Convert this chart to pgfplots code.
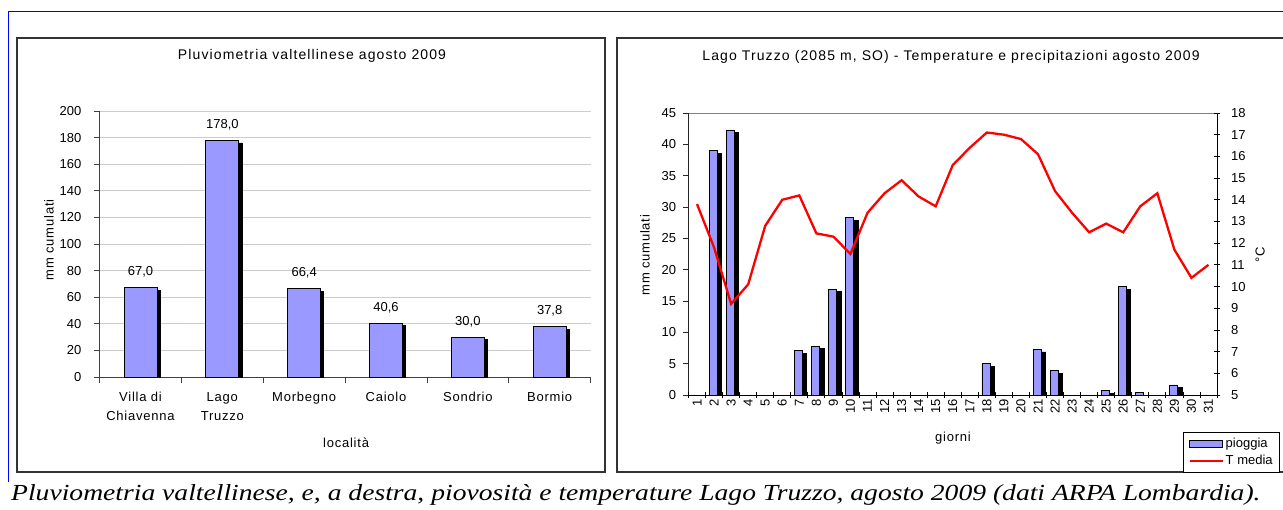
\documentclass[border=0pt]{standalone}
\usepackage{fontspec}
\setmainfont{Liberation Sans}
\newfontfamily\capfont{Liberation Serif}[FakeStretch=1.2]
\usepackage{pgfplots}
\pgfplotsset{compat=1.18}
\usetikzlibrary{shadows}
\definecolor{barblue}{RGB}{153,153,255}
\newcommand{\tf}{\fontsize{13}{15}\selectfont}
\newcommand{\lf}{\fontsize{13}{15}\selectfont\addfontfeature{LetterSpace=6}}
\newcommand{\ttlf}{\fontsize{14}{16}\selectfont\addfontfeature{LetterSpace=8}}
\pgfplotsset{
  barlegend/.style={legend image code/.code={\draw[##1] (0pt,-3.5pt) rectangle (33pt,3.5pt);}},
  linelegend/.style={legend image code/.code={\draw[##1] (0pt,0pt) -- (33pt,0pt);}},
}
\begin{document}
\begin{tikzpicture}[x=1pt,y=1pt]
\useasboundingbox (0,0) rectangle (1283,509);
% frames
\draw[blue, line width=1pt] (8,497) -- (1290,497);
\draw[blue, line width=1pt] (8,497) -- (8,27);
\draw[black!80, line width=1.5pt] (17,471) rectangle (605,37);
\draw[black!80, line width=1.5pt] (617,471) rectangle (1300,37);
\node[anchor=base west, font=\capfont\itshape\fontsize{23}{27}\selectfont, inner sep=0pt] at (11,8.5) {Pluviometria valtellinese, e, a destra, piovosità e temperature Lago Truzzo, agosto 2009 (dati ARPA Lombardia).};

% ---------------- left chart
\begin{axis}[
  at={(99.6pt,132pt)}, anchor=south west, scale only axis,
  width=491pt, height=266pt,
  font=\tf,
  /pgf/number format/assume math mode=true,
  xmin=-0.5, xmax=5.5, ymin=0, ymax=200,
  axis x line*=bottom, axis y line*=left,
  axis line style={black!75, line width=0.8pt, -},
  xtick={-0.5,0.5,...,5.5}, xticklabels={},
  extra x ticks={0,1,2,3,4,5},
  extra x tick labels={{Villa di\\Chiavenna},{Lago\\Truzzo},Morbegno,Caiolo,Sondrio,Bormio},
  extra x tick style={major tick length=0pt, tick label style={align=center, font=\fontsize{13}{19}\selectfont\addfontfeature{LetterSpace=6}, inner sep=0pt, yshift=-15pt}},
  ytick={0,20,...,200},
  y tick label style={inner sep=0pt, xshift=-12pt},
  tick align=outside, major tick length=6pt,
  tick style={black!75, line width=0.8pt},
  ymajorgrids, grid style={black!20, line width=0.8pt},
  title={Pluviometria valtellinese agosto 2009},
  title style={at={(axis description cs:0.4326,1.184)}, anchor=center, font=\ttlf},
  xlabel={località},
  xlabel style={at={(axis description cs:0.502,-0.248)}, anchor=center, font=\lf},
  ylabel={mm cumulati},
  ylabel style={at={(axis description cs:-0.103,0.515)}, anchor=center, rotate=0, font=\lf},
]
\addplot[ybar, bar width=33pt, fill=barblue, draw=black, line width=0.8pt,
  drop shadow={shadow xshift=3.2pt, shadow yshift=-2.7pt, fill=black, opacity=1},
  nodes near coords={\pgfmathprintnumber[fixed,zerofill,precision=1,use comma]{\pgfplotspointmeta}},
  every node near coord/.append style={anchor=base, inner sep=0pt, yshift=12pt, font=\tf, black}]
  coordinates {(0,67.0) (1,178.0) (2,66.4) (3,40.6) (4,30.0) (5,37.8)};
\end{axis}

% ---------------- right chart: bars
\begin{axis}[
  at={(688.5pt,114pt)}, anchor=south west, scale only axis,
  width=528.5pt, height=282pt,
  font=\tf,
  /pgf/number format/assume math mode=true,
  xmin=0.5, xmax=31.5, ymin=0, ymax=45,
  axis x line=none, axis y line*=left,
  axis line style={black!85, line width=0.8pt, -},
  ytick={0,5,...,45},
  y tick label style={inner sep=0pt, xshift=-6.3pt},
  tick align=outside, major tick length=6pt,
  tick style={black!85, line width=0.8pt},
  title={Lago Truzzo (2085 m, SO) - Temperature e precipitazioni agosto 2009},
  title style={at={(axis description cs:0.4967,1.177)}, anchor=center, font=\ttlf},
  ylabel={mm cumulati},
  ylabel style={at={(axis description cs:-0.0823,0.496)}, anchor=center, rotate=0, font=\lf},
]
\addplot[ybar, bar width=8pt, bar shift=-1pt, fill=barblue, draw=black, line width=0.7pt,
  drop shadow={shadow xshift=4.5pt, shadow yshift=-2.7pt, fill=black, opacity=1}]
  coordinates {(2,39.0) (3,42.3) (7,7.1) (8,7.8) (9,16.9) (10,28.3) (18,5.0) (21,7.3) (22,3.9) (25,0.7) (26,17.3) (27,0.4) (29,1.6)};
\end{axis}
\draw[black!50, line width=0.8pt] (688.5,396) -- (1217,396);

% ---------------- right chart: temperature and x axis
\begin{axis}[
  at={(688.5pt,114pt)}, anchor=south west, scale only axis,
  width=528.5pt, height=282pt,
  font=\tf,
  /pgf/number format/assume math mode=true,
  xmin=0.5, xmax=31.5, ymin=5, ymax=18,
  axis x line*=bottom, axis y line*=right,
  axis line style={black, line width=0.8pt, -},
  xtick={0.5,1.5,...,31.5}, xticklabels={},
  extra x ticks={1,...,31},
  extra x tick style={major tick length=0pt, tick label style={rotate=90, anchor=east, inner xsep=4pt, inner ysep=0pt}},
  ytick={5,...,18},
  y tick label style={inner sep=0pt, xshift=10.7pt},
  tick align=center, major tick length=6.5pt,
  tick style={black, line width=0.8pt},
  xlabel={giorni},
  xlabel style={at={(axis description cs:0.5005,-0.1525)}, anchor=center, font=\lf},
  ylabel={°C},
  ylabel style={at={(axis description cs:1.0814,0.496)}, anchor=center, rotate=0, font=\lf},
  legend style={at={(axis description cs:0.9357,-0.1312)}, anchor=north west, draw=black, line width=0.8pt, font=\tf, inner xsep=5pt, inner ysep=4pt, row sep=2pt, nodes={inner sep=2pt}},
  legend cell align=left,
]
\addlegendimage{fill=barblue, draw=black, line width=0.8pt, barlegend}
\addlegendentry{pioggia}
\addplot[red, line width=2.3pt, linelegend]
  coordinates {(1,13.8) (2,11.8) (3,9.2) (4,10.1) (5,12.8) (6,14.0) (7,14.2) (8,12.45) (9,12.3) (10,11.5) (11,13.4) (12,14.3) (13,14.9) (14,14.15) (15,13.7) (16,15.6) (17,16.4) (18,17.1) (19,17.0) (20,16.8) (21,16.1) (22,14.4) (23,13.4) (24,12.5) (25,12.9) (26,12.5) (27,13.7) (28,14.3) (29,11.7) (30,10.4) (31,11.0)};
\addlegendentry{T media}
\end{axis}
\end{tikzpicture}
\end{document}
